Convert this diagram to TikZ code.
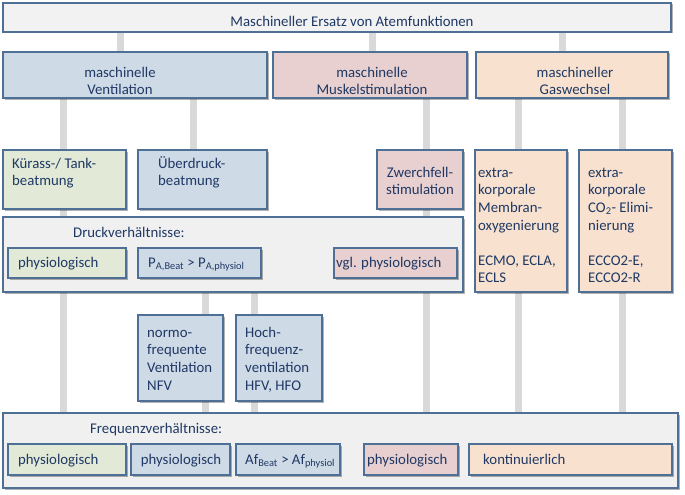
\documentclass[tikz,border=0pt]{standalone}
\usepackage{fontspec}
\setmainfont{Carlito}
\usetikzlibrary{shadows}
\pgfdeclarelayer{background}
\pgfsetlayers{background,main}
\definecolor{bord}{HTML}{4F7096}
\definecolor{txtc}{HTML}{1F3864}
\definecolor{connc}{HTML}{D9D9D9}
\definecolor{fblue}{HTML}{CFDAE7}
\definecolor{fpink}{HTML}{E8D0D0}
\definecolor{fgreen}{HTML}{E2EAD7}
\definecolor{fpeach}{HTML}{F8E2CF}
\definecolor{fgrey}{HTML}{F0F0F0}
\definecolor{ftitle}{HTML}{F2F2F2}
\tikzset{
  box/.style={draw=bord, line width=1.3pt, rectangle, inner sep=0pt,
    drop shadow={shadow xshift=1.5pt, shadow yshift=-1.5pt, fill=black, opacity=0.3}},
  conn/.style={draw=connc, line width=7pt},
  tx/.style={text=txtc, inner sep=0pt, font=\fontsize{14.8}{17.6}\selectfont},
  ml/.style={tx, anchor=north west, align=left},
  mc/.style={tx, anchor=north, align=center},
  sl/.style={tx, anchor=base west},
}
\newcommand{\bx}[6]{\node[box, fill=#6, minimum width={(#4-#2)*1pt}, minimum height={(#5-#3)*1pt}] (#1) at ({(#2+#4)/2},{(#3+#5)/2}) {};}
\begin{document}
\begin{tikzpicture}[x=1pt,y=-1pt]
\useasboundingbox (0,0) rectangle (685,495);
% boxes
\bx{title}{3}{3}{671}{32}{ftitle}
\bx{h1}{3}{52}{267}{98}{fblue}
\bx{h2}{273}{52}{467}{98}{fpink}
\bx{h3}{476}{52}{668}{98}{fpeach}
\bx{kur}{3}{150}{126}{209}{fgreen}
\bx{ueb}{138}{150}{267}{209}{fblue}
\bx{zwe}{377}{150}{463}{209}{fpink}
\bx{ecmo}{475}{150}{567}{292}{fpeach}
\bx{ecco}{579}{150}{672}{292}{fpeach}
\bx{druck}{3}{217}{463}{292}{fgrey}
\bx{d1}{8}{248}{126}{278}{fgreen}
\bx{d2}{138}{248}{261}{278}{fblue}
\bx{d3}{334}{248}{457}{278}{fpink}
\bx{nfv}{138}{315}{223}{401}{fblue}
\bx{hfv}{236}{315}{322}{401}{fblue}
\bx{freq}{3}{413}{678}{488}{fgrey}
\bx{f1}{8}{444}{126}{475}{fgreen}
\bx{f2}{131}{444}{230}{475}{fblue}
\bx{f3}{236}{444}{340}{475}{fblue}
\bx{f4}{364}{444}{458}{475}{fpink}
\bx{f5}{469}{444}{672}{475}{fpeach}
% texts
\node[tx, anchor=base] (ttitle) at (352,27) {Maschineller Ersatz von Atemfunktionen};
\node[mc] (th1) at (120,64.7) {\strut maschinelle\\\strut Ventilation};
\node[mc] (th2) at (372,64.7) {\strut maschinelle\\\strut Muskelstimulation};
\node[mc] (th3) at (575,64.7) {\strut maschineller\\\strut Gaswechsel};
\node[ml] (tkur) at (12,155.7) {\strut Kürass-/ Tank-\\\strut beatmung};
\node[ml] (tueb) at (158,155.7) {\strut Überdruck-\\\strut beatmung};
\node[mc] (tzwe) at (420,164.7) {\strut Zwerchfell-\\\strut stimulation};
\node[ml] (tecmo) at (478,164.7) {\strut extra-\\\strut korporale\\\strut Membran-\\\strut oxygenierung\\\strut\\\strut ECMO, ECLA,\\\strut ECLS};
\node[ml] (tecco) at (588,164.7) {\strut extra-\\\strut korporale\\\strut CO\textsubscript{2}- Elimi-\\\strut nierung\\\strut\\\strut ECCO2-E,\\\strut ECCO2-R};
\node[sl] (tdruck) at (73,237) {Druckverhältnisse:};
\node[sl] (td1) at (18,267) {physiologisch};
\node[sl] (td2) at (148,267) {P\textsubscript{A,Beat} > P\textsubscript{A,physiol}};
\node[sl] (td3) at (336,267) {vgl. physiologisch};
\node[ml] (tnfv) at (147,324.7) {\strut normo-\\\strut frequente\\\strut Ventilation\\\strut NFV};
\node[ml] (thfv) at (245,324.7) {\strut Hoch-\\\strut frequenz-\\\strut ventilation\\\strut HFV, HFO};
\node[sl] (tfreq) at (90,433) {Frequenzverhältnisse:};
\node[sl] (tf1) at (18,464) {physiologisch};
\node[tx, anchor=base] (tf2) at (181,464) {physiologisch};
\node[sl] (tf3) at (245,464) {Af\textsubscript{Beat} > Af\textsubscript{physiol}};
\node[sl] (tf4) at (367,464) {physiologisch};
\node[sl] (tf5) at (483,464) {kontinuierlich};
% connectors
\begin{pgfonlayer}{background}
\foreach \xx in {63,120,193,205,254,372,426,518,562,622} {\coordinate (x\xx) at (\xx,0);}
\draw[conn] (title.south -| x120) -- (h1.north -| x120);
\draw[conn] (title.south -| x372) -- (h2.north -| x372);
\draw[conn] (title.south -| x562) -- (h3.north -| x562);
\draw[conn] (h1.south -| x63) -- (freq.north -| x63);
\draw[conn] (h1.south -| x193) -- (ueb.north -| x193);
\draw[conn] (druck.south -| x205) -- (freq.north -| x205);
\draw[conn] (druck.south -| x254) -- (freq.north -| x254);
\draw[conn] (h2.south -| x426) -- (freq.north -| x426);
\draw[conn] (h3.south -| x518) -- (freq.north -| x518);
\draw[conn] (h3.south -| x622) -- (freq.north -| x622);
\end{pgfonlayer}
\end{tikzpicture}
\end{document}
